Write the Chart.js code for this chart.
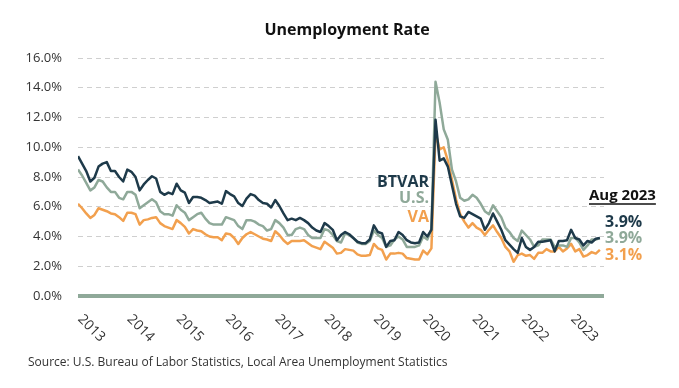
<!DOCTYPE html>
<html>
<head>
<meta charset="utf-8">
<script src="https://cdn.jsdelivr.net/npm/chart.js@4.4.0/dist/chart.umd.min.js"></script>
<style>
  html, body { margin: 0; padding: 0; background: #fff; }
  #wrap { width: 679px; height: 388px; position: relative; }
</style>
</head>
<body>
<div id="wrap"><canvas id="unemploymentChart"></canvas></div>
<script>
// monthly, Jan 2013 .. Aug 2023 (not seasonally adjusted)
const years = ['2013', '2014', '2015', '2016', '2017', '2018', '2019', '2020', '2021', '2022', '2023'];
const lastMonth = 'Aug 2023';
const seriesNames = ['BTVAR', 'U.S.', 'VA'];

const btvar = [
  9.4, 8.9, 8.4, 7.7, 7.95, 8.7, 8.9, 9.0, 8.4, 8.4, 8.0, 7.7,
  8.5, 8.35, 8.0, 7.1, 7.5, 7.8, 8.05, 7.9, 7.0, 6.8, 6.95, 6.85,
  7.55, 7.1, 6.95, 6.25, 6.65, 6.65, 6.6, 6.45, 6.25, 6.3, 6.35, 6.2,
  7.05, 6.85, 6.7, 6.25, 6.05, 6.55, 6.85, 6.75, 6.45, 6.25, 6.2, 5.95,
  6.45, 6.05, 5.55, 5.1, 5.2, 5.1, 5.25, 5.1, 4.9, 4.6, 4.4, 4.3,
  4.9, 4.7, 4.45, 3.75, 4.1, 4.3, 4.15, 3.9, 3.65, 3.55, 3.55, 3.8,
  4.75, 4.3, 4.2, 3.3, 3.7, 3.75, 4.3, 4.1, 3.75, 3.6, 3.55, 3.6,
  4.3, 4.0, 4.45, 11.85, 9.1, 9.25, 8.7, 7.45, 6.2, 5.35, 5.25, 5.65,
  5.5, 5.35, 5.2, 4.45, 4.9, 5.55, 5.0, 4.45, 3.75, 3.45, 3.15, 2.9,
  3.9, 3.3, 3.1, 3.3, 3.65, 3.65, 3.7, 3.75, 3.0, 3.7, 3.7, 3.75,
  4.45, 3.9, 3.8, 3.4, 3.7, 3.6, 3.85, 3.9
];
const us = [
  8.5, 8.1, 7.6, 7.1, 7.3, 7.8, 7.7, 7.3, 7.0, 7.0, 6.6, 6.5,
  7.0, 7.0, 6.8, 5.9, 6.1, 6.3, 6.5, 6.3, 5.7, 5.5, 5.5, 5.4,
  6.1, 5.8, 5.6, 5.1, 5.3, 5.5, 5.6, 5.2, 4.9, 4.8, 4.8, 4.8,
  5.3, 5.2, 5.1, 4.7, 4.5, 5.1, 5.1, 5.0, 4.8, 4.7, 4.4, 4.5,
  5.1, 4.9, 4.6, 4.1, 4.1, 4.5, 4.6, 4.5, 4.1, 3.9, 3.9, 3.9,
  4.5, 4.4, 4.1, 3.7, 3.6, 4.2, 4.1, 3.9, 3.6, 3.5, 3.5, 3.7,
  4.4, 4.1, 3.9, 3.3, 3.4, 3.8, 4.0, 3.8, 3.3, 3.3, 3.3, 3.4,
  4.0, 3.8, 4.5, 14.4, 13.0, 11.2, 10.5, 8.5, 7.7, 6.6, 6.4, 6.5,
  6.8, 6.6, 6.2, 5.7, 5.5, 6.1, 5.7, 5.3, 4.6, 4.3, 3.9, 3.7,
  4.4, 4.1, 3.8, 3.3, 3.4, 3.8, 3.8, 3.8, 3.3, 3.4, 3.4, 3.3,
  3.9, 3.9, 3.6, 3.1, 3.4, 3.8, 3.8, 3.9
];
const va = [
  6.2, 5.9, 5.55, 5.25, 5.45, 5.9, 5.8, 5.7, 5.55, 5.5, 5.3, 5.05,
  5.6, 5.6, 5.5, 4.8, 5.1, 5.15, 5.25, 5.3, 4.9, 4.7, 4.6, 4.5,
  5.1, 4.9, 4.65, 4.2, 4.5, 4.4, 4.35, 4.15, 4.0, 3.95, 3.95, 3.75,
  4.2, 4.15, 3.9, 3.5, 3.9, 4.15, 4.3, 4.15, 4.0, 3.85, 3.8, 3.7,
  4.35, 4.1, 3.75, 3.5, 3.7, 3.7, 3.7, 3.75, 3.55, 3.35, 3.25, 3.15,
  3.65, 3.45, 3.25, 2.85, 2.9, 3.15, 3.1, 3.05, 2.8, 2.7, 2.7, 2.75,
  3.5, 3.2, 3.1, 2.45, 2.85, 2.85, 2.9, 2.85, 2.55, 2.5, 2.45, 2.45,
  3.05, 2.8, 3.2, 11.0, 9.85, 10.0, 9.1, 7.8, 6.5, 5.5, 5.0, 4.6,
  4.9, 4.6, 4.45, 4.1, 4.45, 4.75, 4.3, 3.9, 3.3, 3.0, 2.3, 2.75,
  2.85, 2.7, 2.75, 2.5, 2.9, 2.9, 3.15, 3.0, 3.0, 3.3, 3.0, 3.2,
  3.5, 3.0, 3.15, 2.65, 2.75, 2.95, 2.85, 3.1
];

const NAVY = '#1e3a4a';
const SAGE = '#8fa999';
const ORANGE = '#f2a04e';
const FONT = '"Open Sans", "Noto Sans", sans-serif';

const toPoints = arr => arr.map((v, i) => ({ x: i, y: v }));

// everything that isn't a series: title, rotated years, source, labels
const decorations = {
  id: 'decorations',
  beforeDatasetsDraw(chart) {
    const { ctx, chartArea, scales } = chart;
    const y0 = scales.y.getPixelForValue(0);
    ctx.save();
    ctx.strokeStyle = SAGE;
    ctx.lineWidth = 4;
    ctx.beginPath();
    ctx.moveTo(chartArea.left, y0);
    ctx.lineTo(chartArea.right, y0);
    ctx.stroke();
    ctx.restore();
  },
  afterDraw(chart) {
    const { ctx, chartArea, scales } = chart;
    ctx.save();

    ctx.fillStyle = '#111';
    ctx.font = 'bold 16px ' + FONT;
    ctx.textAlign = 'center';
    ctx.textBaseline = 'middle';
    ctx.fillText('Unemployment Rate', 347, 30);

    ctx.fillStyle = '#333';
    ctx.font = '14px ' + FONT;
    ctx.textAlign = 'left';
    years.forEach((yr, k) => {
      const x = scales.x.getPixelForValue(k * 12);
      ctx.save();
      ctx.translate(x + 2, 317);
      ctx.rotate(Math.PI / 4);
      ctx.fillText(yr, 0, 0);
      ctx.restore();
    });

    ctx.font = '12px ' + FONT;
    ctx.fillText('Source: U.S. Bureau of Labor Statistics, Local Area Unemployment Statistics', 28, 363);

    // series names in the middle
    ctx.font = 'bold 16px ' + FONT;
    ctx.textAlign = 'right';
    const nameColors = [NAVY, SAGE, ORANGE];
    const nameY = [182, 198, 217];
    seriesNames.forEach((n, i) => {
      ctx.fillStyle = nameColors[i];
      ctx.fillText(n, 429, nameY[i]);
    });

    // latest values on the right
    ctx.textAlign = 'left';
    ctx.fillStyle = '#111';
    ctx.font = 'bold 15px ' + FONT;
    const lx = chartArea.right - 15;
    ctx.fillText(lastMonth, lx, 196);
    const w = ctx.measureText(lastMonth).width;
    ctx.strokeStyle = '#111';
    ctx.lineWidth = 1.5;
    ctx.beginPath();
    ctx.moveTo(lx, 204);
    ctx.lineTo(lx + w, 204);
    ctx.stroke();

    ctx.font = 'bold 16px ' + FONT;
    const lastVals = [btvar, us, va].map(a => a[a.length - 1].toFixed(1) + '%');
    const valY = [222, 238, 255];
    lastVals.forEach((t, i) => {
      ctx.fillStyle = nameColors[i];
      ctx.fillText(t, chartArea.right + 1, valY[i]);
    });
    ctx.restore();
  }
};

const ctxUnemp = document.getElementById('unemploymentChart').getContext('2d');
const unempChart = new Chart(ctxUnemp, {
  type: 'line',
  data: {
    datasets: [
      { label: seriesNames[0], data: toPoints(btvar), borderColor: NAVY, borderWidth: 2.5 },
      { label: seriesNames[1], data: toPoints(us), borderColor: SAGE, borderWidth: 2.5 },
      { label: seriesNames[2], data: toPoints(va), borderColor: ORANGE, borderWidth: 2.5 }
    ]
  },
  options: {
    responsive: true,
    maintainAspectRatio: false,
    animation: false,
    elements: { point: { radius: 0 }, line: { tension: 0, borderJoinStyle: 'round' } },
    layout: { padding: { top: 58, bottom: 92, left: 0, right: 75 } },
    plugins: {
      legend: { display: false },
      title: { display: false },
      tooltip: { enabled: false }
    },
    scales: {
      x: { type: 'linear', min: 0, max: 128, display: false },
      y: {
        min: 0,
        max: 16,
        afterFit: scale => { scale.width = 78; },
        ticks: {
          stepSize: 2,
          padding: 16,
          color: '#333',
          font: { family: FONT, size: 13 },
          callback: v => v.toFixed(1) + '%'
        },
        grid: {
          drawTicks: false,
          color: c => c.tick.value === 0 ? 'rgba(0,0,0,0)' : '#cfcfcf',
          lineWidth: 1
        },
        border: { display: false, dash: [5, 4] }
      }
    }
  },
  plugins: [decorations]
});
</script>
</body>
</html>
